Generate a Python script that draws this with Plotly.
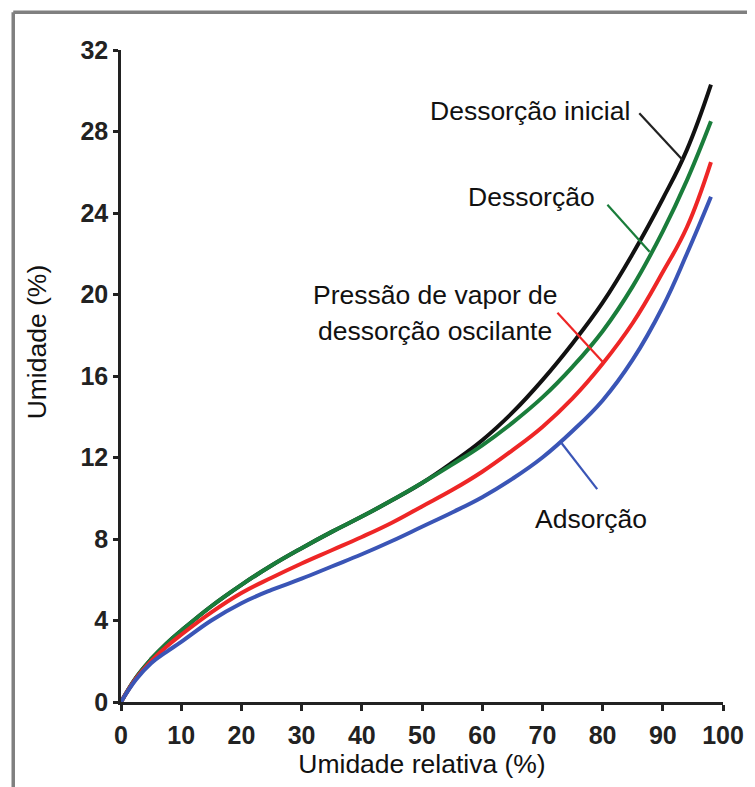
import plotly.graph_objects as go

# Relative humidity (%)
rh = [0, 2.5, 5, 7.5, 10, 15, 20, 25, 30, 35, 40, 45, 50, 55, 60, 65, 70, 75, 80, 85, 90, 94, 98]

# Moisture content (%) per curve
dessorcao_inicial = [0, 1.2, 2.1, 2.85, 3.5, 4.7, 5.75, 6.7, 7.55, 8.35, 9.1, 9.9, 10.75,
                     11.75, 12.85, 14.2, 15.8, 17.6, 19.6, 22.0, 24.7, 27.1, 30.3]
dessorcao = [0, 1.2, 2.1, 2.85, 3.5, 4.7, 5.75, 6.7, 7.55, 8.35, 9.1, 9.9, 10.75,
             11.65, 12.6, 13.7, 14.95, 16.45, 18.2, 20.4, 23.1, 25.6, 28.5]
pressao_oscilante = [0, 1.15, 2.0, 2.7, 3.3, 4.4, 5.35, 6.1, 6.8, 7.45, 8.1, 8.8, 9.6,
                     10.4, 11.3, 12.35, 13.5, 14.9, 16.6, 18.6, 21.1, 23.3, 26.5]
adsorcao = [0, 1.1, 1.9, 2.45, 2.95, 4.0, 4.85, 5.5, 6.05, 6.65, 7.25, 7.9, 8.6,
            9.3, 10.05, 10.95, 12.0, 13.3, 14.8, 16.8, 19.4, 22.0, 24.8]

x_ticks = [0, 10, 20, 30, 40, 50, 60, 70, 80, 90, 100]
y_ticks = [0, 4, 8, 12, 16, 20, 24, 28, 32]

series = [
    ("Dessorção inicial", dessorcao_inicial, "#111111"),
    ("Dessorção", dessorcao, "#1a7d3b"),
    ("Pressão de vapor de dessorção oscilante", pressao_oscilante, "#ee2626"),
    ("Adsorção", adsorcao, "#3a55b6"),
]

fig = go.Figure()
for name, ys, col in series:
    fig.add_trace(go.Scatter(
        x=rh, y=ys, mode="lines", name=name,
        line=dict(color=col, width=4, shape="spline", smoothing=1.2),
        hoverinfo="skip",
    ))

FONT = "Liberation Sans, Arial, sans-serif"

# leader lines (data coordinates)
leaders = [
    ((86.1, 28.9), (93.3, 26.6), "#222222"),
    ((80.8, 24.4), (87.8, 22.1), "#1a7d3b"),
    ((72.5, 19.1), (80.0, 16.7), "#ee2626"),
    ((73.2, 12.7), (79.1, 10.45), "#3a55b6"),
]
shapes = []
for (x0, y0), (x1, y1), col in leaders:
    shapes.append(dict(type="line", xref="x", yref="y", x0=x0, y0=y0, x1=x1, y1=y1,
                       line=dict(color=col, width=2.2)))

# outer frame (top and left edges)
shapes.append(dict(type="line", xref="paper", yref="paper", x0=-0.179, y0=1.058, x1=1.1, y1=1.058,
                   line=dict(color="#808080", width=3.5)))
shapes.append(dict(type="line", xref="paper", yref="paper", x0=-0.179, y0=1.058, x1=-0.179, y1=-0.2,
                   line=dict(color="#808080", width=3.5)))

ann_font = dict(family=FONT, size=26.5, color="#111111")
annotations = [
    dict(x=84.8, y=29.0, xref="x", yref="y", text="Dessorção inicial", showarrow=False,
         xanchor="right", yanchor="middle", font=ann_font),
    dict(x=79.0, y=24.8, xref="x", yref="y", text="Dessorção", showarrow=False,
         xanchor="right", yanchor="middle", font=ann_font),
    dict(x=52.2, y=20.0, xref="x", yref="y", text="Pressão de vapor de", showarrow=False,
         xanchor="center", yanchor="middle", font=ann_font),
    dict(x=52.2, y=18.2, xref="x", yref="y", text="dessorção oscilante", showarrow=False,
         xanchor="center", yanchor="middle", font=ann_font),
    dict(x=78.0, y=9.0, xref="x", yref="y", text="Adsorção", showarrow=False,
         xanchor="center", yanchor="middle", font=ann_font),
    # y-axis title (placed slightly above the axis centre, as in the reference)
    dict(x=-0.138, y=0.553, xref="paper", yref="paper", text="Umidade (%)", showarrow=False,
         textangle=-90, xanchor="center", yanchor="middle", font=ann_font),
]

fig.update_layout(
    width=747, height=779,
    margin=dict(l=113, r=31.5, t=42, b=85),
    paper_bgcolor="white", plot_bgcolor="white",
    showlegend=False,
    shapes=shapes,
    annotations=annotations,
    font=dict(family=FONT, color="#111111"),
)
fig.update_xaxes(
    range=[0, 100], tickvals=x_ticks, ticktext=[str(v) for v in x_ticks],
    showgrid=False, zeroline=False, showline=True, linecolor="#222222", linewidth=2.5,
    ticks="outside", ticklen=6, tickwidth=2.5, tickcolor="#222222",
    tickfont=dict(family=FONT, size=25, color="#222222", weight="bold"),
    ticklabelstandoff=3, automargin=False,
    title=dict(text="Umidade relativa (%)", font=dict(family=FONT, size=26.5, color="#111111"), standoff=4),
)
fig.update_yaxes(
    range=[0, 32], tickvals=y_ticks, ticktext=[str(v) for v in y_ticks],
    showgrid=False, zeroline=False, showline=True, linecolor="#222222", linewidth=2.5,
    ticks="outside", ticklen=5, tickwidth=2.5, tickcolor="#222222",
    tickfont=dict(family=FONT, size=25, color="#222222", weight="bold"),
    ticklabelstandoff=0, automargin=False,
)

fig.write_html("out.html")
